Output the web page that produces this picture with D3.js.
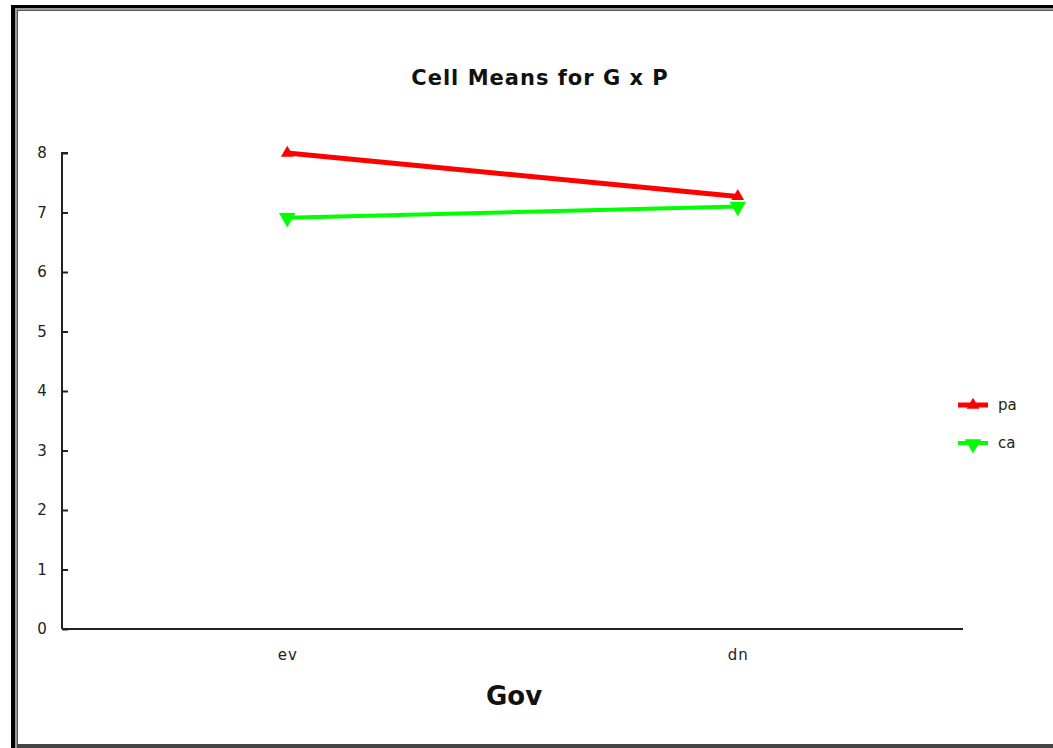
<!DOCTYPE html>
<html lang="en">
<head>
    <meta charset="UTF-8">
    <title>Cell Means for G x P</title>
    <script src="https://d3js.org/d3.v7.min.js"></script>
    <style>
        body { margin: 0; background: #fff; }
        svg { display: block; font-family: "DejaVu Sans", Verdana, sans-serif; }
    </style>
</head>
<body>
    <div id="chart"></div>
    <script>
        const width = 1053;
        const height = 748;
        const marginTop = 153;
        const marginRight = 90;
        const marginBottom = 119;
        const marginLeft = 62;

        // data
        const categories = ["ev", "dn"];
        const seriesNames = ["pa", "ca"];
        const paValues = [8.0, 7.27];
        const caValues = [6.91, 7.1];
        const yTicks = [0, 1, 2, 3, 4, 5, 6, 7, 8];

        const series = [
            { name: seriesNames[0], values: paValues, color: "#ff0000", width: 5, up: true },
            { name: seriesNames[1], values: caValues, color: "#00ff00", width: 4, up: false }
        ];

        const svg = d3.select("#chart").append("svg")
            .attr("width", width)
            .attr("height", height);

        // window frame
        svg.append("rect").attr("x", 11).attr("y", 5).attr("width", width).attr("height", 3).attr("fill", "#000");
        svg.append("rect").attr("x", 11).attr("y", 5).attr("width", 4).attr("height", height).attr("fill", "#000");
        svg.append("rect").attr("x", 15).attr("y", 8).attr("width", width).attr("height", 2).attr("fill", "#999");
        svg.append("rect").attr("x", 15).attr("y", 8).attr("width", 2).attr("height", height).attr("fill", "#999");
        svg.append("rect").attr("x", 17).attr("y", 10).attr("width", width).attr("height", 1).attr("fill", "#555");
        svg.append("rect").attr("x", 17).attr("y", 10).attr("width", 1).attr("height", height).attr("fill", "#555");
        svg.append("rect").attr("x", 17).attr("y", 744).attr("width", width).attr("height", 4).attr("fill", "#444");

        const x = d3.scalePoint()
            .domain(categories)
            .range([marginLeft, width - marginRight])
            .padding(0.5);

        const y = d3.scaleLinear()
            .domain([0, 8])
            .range([height - marginBottom, marginTop]);

        const yAxis = d3.axisRight(y).tickValues(yTicks).tickSize(6).tickFormat(d3.format("d"));
        const gy = svg.append("g")
            .attr("transform", `translate(${marginLeft},0)`)
            .call(yAxis);
        gy.select(".domain").attr("stroke", "#222").attr("stroke-width", 2).attr("d", `M6,${y(8)}H0V${y(0)}`);
        gy.selectAll(".tick line").attr("stroke", "#222").attr("stroke-width", 2);
        gy.selectAll(".tick text")
            .attr("x", -20)
            .attr("text-anchor", "middle")
            .attr("font-family", "DejaVu Sans")
            .attr("font-size", 15)
            .attr("fill", "#222");

        const xAxis = d3.axisBottom(x).tickSize(0).tickPadding(20);
        const gx = svg.append("g")
            .attr("transform", `translate(0,${height - marginBottom})`)
            .call(xAxis);
        gx.select(".domain").attr("stroke", "#222").attr("stroke-width", 2).attr("d", `M${marginLeft},0H${width - 90}`);
        gx.selectAll(".tick text")
            .attr("font-family", "DejaVu Sans")
            .attr("font-size", 15)
            .attr("letter-spacing", 1)
            .attr("fill", "#222");

        // title and axis label
        svg.append("text")
            .attr("x", 540).attr("y", 85)
            .attr("text-anchor", "middle")
            .attr("font-size", 21).attr("font-weight", "bold")
            .attr("letter-spacing", 1)
            .attr("fill", "#111")
            .text("Cell Means for G x P");

        svg.append("text")
            .attr("x", 514).attr("y", 705)
            .attr("text-anchor", "middle")
            .attr("font-size", 26).attr("font-weight", "bold")
            .attr("fill", "#111")
            .text("Gov");

        const line = d3.line()
            .x((d, i) => x(categories[i]))
            .y(d => y(d));

        const triUp = d3.symbol().type(d3.symbolTriangle).size(70);
        const triDown = d3.symbol().type(d3.symbolTriangle).size(120);

        series.forEach(s => {
            svg.append("path")
                .datum(s.values)
                .attr("fill", "none")
                .attr("stroke", s.color)
                .attr("stroke-width", s.width)
                .attr("d", line);

            svg.selectAll(null)
                .data(s.values)
                .join("path")
                .attr("transform", (d, i) => `translate(${x(categories[i])},${y(d)})` + (s.up ? "" : " rotate(180)"))
                .attr("d", s.up ? triUp() : triDown())
                .attr("fill", s.color);
        });

        // legend
        const legend = svg.append("g").attr("transform", "translate(958,405)");
        series.forEach((s, i) => {
            const g = legend.append("g").attr("transform", `translate(0,${i * 38})`);
            g.append("line")
                .attr("x1", 0).attr("x2", 30)
                .attr("stroke", s.color).attr("stroke-width", s.width);
            g.append("path")
                .attr("transform", `translate(15,${s.up ? 0 : 1})` + (s.up ? "" : " rotate(180)"))
                .attr("d", s.up ? triUp() : triDown())
                .attr("fill", s.color);
            g.append("text")
                .attr("x", 40).attr("y", 5)
                .attr("font-size", 15).attr("fill", "#222")
                .text(s.name);
        });
    </script>
</body>
</html>
